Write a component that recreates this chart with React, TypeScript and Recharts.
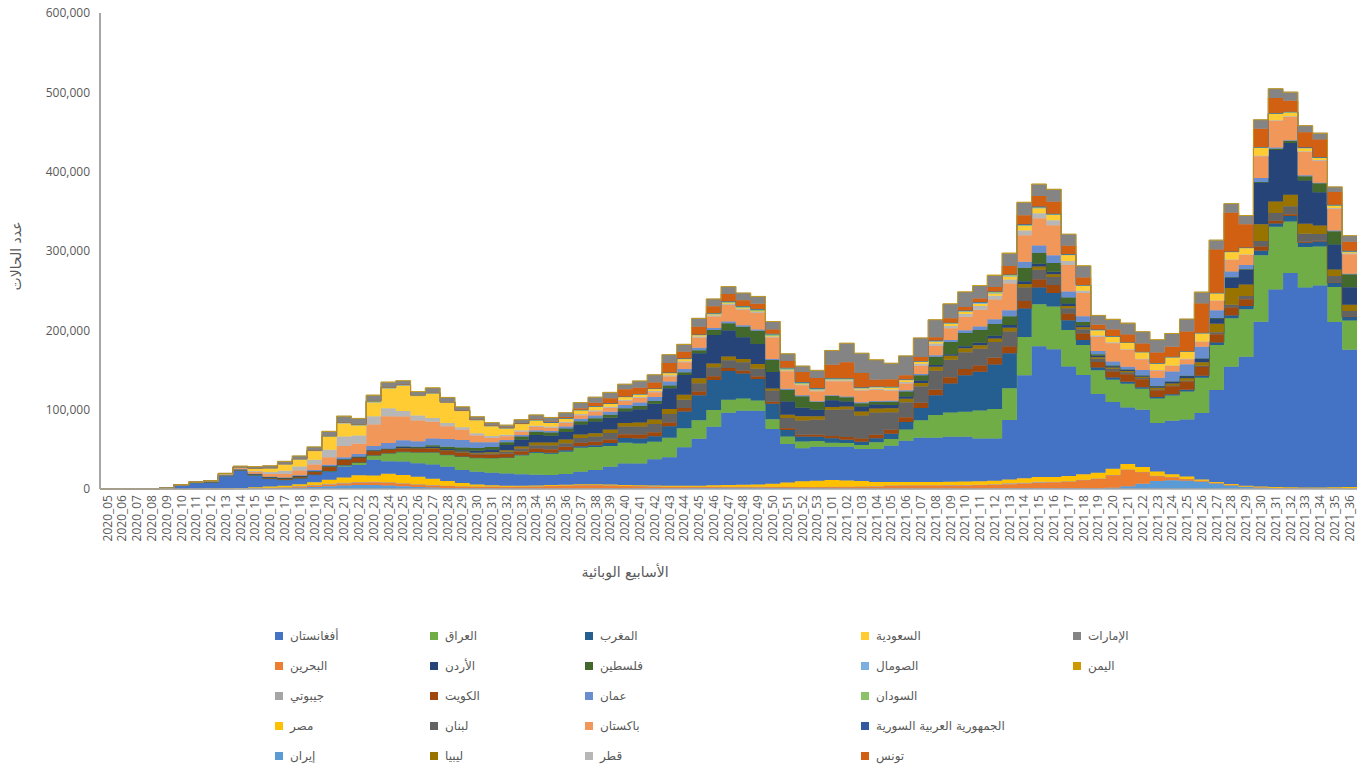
import React from 'react';
import { AreaChart, Area, XAxis, YAxis } from 'recharts';

const weeks = [
  '2020_05','2020_06','2020_07','2020_08','2020_09','2020_10','2020_11','2020_12','2020_13','2020_14',
  '2020_15','2020_16','2020_17','2020_18','2020_19','2020_20','2020_21','2020_22','2020_23','2020_24',
  '2020_25','2020_26','2020_27','2020_28','2020_29','2020_30','2020_31','2020_32','2020_33','2020_34',
  '2020_35','2020_36','2020_37','2020_38','2020_39','2020_40','2020_41','2020_42','2020_43','2020_44',
  '2020_45','2020_46','2020_47','2020_48','2020_49','2020_50','2020_51','2020_52','2020_53','2021_01',
  '2021_02','2021_03','2021_04','2021_05','2021_06','2021_07','2021_08','2021_09','2021_10','2021_11',
  '2021_12','2021_13','2021_14','2021_15','2021_16','2021_17','2021_18','2021_19','2021_20','2021_21',
  '2021_22','2021_23','2021_24','2021_25','2021_26','2021_27','2021_28','2021_29','2021_30','2021_31',
  '2021_32','2021_33','2021_34','2021_35','2021_36'
];

const yTicks = [0, 100000, 200000, 300000, 400000, 500000, 600000];

const iranCases = [
  0,0,0,0,0,0,0,0,100,200,
  400,600,900,1500,2500,3500,4500,5200,5000,4500,
  3500,2500,1800,1300,900,600,500,400,300,300,
  300,300,400,500,600,700,700,800,900,1000,
  1200,1400,1500,1600,1500,1400,1200,1000,800,700,
  600,500,400,300,300,300,300,300,300,400,
  500,600,800,1000,1000,900,900,1000,1500,3500,
  6500,10000,11000,10500,9000,7000,4500,2500,1500,1000,
  800,600,500,400,300
];
const bahrainCases = [
  0,0,0,50,100,100,200,200,200,300,
  500,800,1000,1500,2000,2300,2500,3000,3500,3800,
  3500,3200,3000,2800,2500,2600,2500,2500,2700,3000,
  3800,4200,4500,4500,4000,3500,3000,2500,2000,1800,
  1500,1300,1200,1100,1200,1300,1500,1600,1700,2000,
  2200,2500,3000,4000,4500,4500,4500,4500,4500,4500,
  4800,5500,6000,7000,7500,8500,10500,12000,16000,21000,
  15000,6500,4000,2200,1300,900,800,700,700,500,
  500,500,400,400,300
];
const djiboutiCases = [
  0,0,0,0,0,0,0,0,20,80,
  300,300,400,700,600,900,1000,700,500,300,
  300,200,100,100,100,100,100,50,50,50,
  50,50,50,50,50,50,50,50,50,50,
  50,50,50,50,50,50,50,50,50,50,
  50,50,50,50,50,50,50,100,200,400,
  700,1000,1200,1000,700,400,200,100,100,100,
  50,50,50,50,50,50,50,50,50,50,
  50,50,50,50,50
];
const egyptCases = [
  0,0,0,0,0,50,200,300,500,800,
  1000,1300,1700,2300,3500,5000,6500,8500,8000,10500,
  10500,9500,8000,6000,4000,2500,1500,1200,1100,1000,
  900,900,900,900,900,900,1000,1100,1200,1300,
  1500,2000,2400,2600,3000,4000,5500,7000,8000,8500,
  8000,7000,5500,4500,4000,4000,4000,4200,4500,4500,
  4500,5000,5500,6000,6000,6500,7000,7500,8000,7000,
  6300,5500,3400,3000,1500,1000,900,900,1000,1000,
  800,800,900,1200,1800
];
const afghanistanCases = [
  0,0,0,0,800,5000,7500,8000,15500,22000,
  15000,10000,7500,7000,9000,10000,14000,13000,20000,16000,
  17000,17000,18000,18000,16500,16000,16000,15500,14500,13500,
  12500,13500,16000,18000,22500,27000,27500,33000,35800,48400,
  59000,73800,91000,93300,92900,68800,48500,41600,42800,42100,
  42500,40400,41500,45800,52100,55800,55800,56800,56400,54000,
  53300,75000,130000,165000,161000,138000,125000,99000,84000,71000,
  72000,61000,67500,71700,84000,115700,148000,162500,207500,249000,
  270000,252000,254700,208500,173000
];
const iraqCases = [
  0,0,0,0,0,50,100,150,300,400,
  300,200,200,400,600,800,1500,3000,5500,10000,
  12000,14000,15500,15000,17000,17500,18500,20000,24000,28000,
  27000,28000,30000,29000,26000,26000,25000,22000,24500,24000,
  23500,21000,16500,15500,13000,12500,9500,8500,7000,5000,
  4500,5000,8500,8500,14000,22000,28500,30500,31500,35000,
  37000,40000,48000,53000,54000,46000,38000,30000,28000,30000,
  26500,31000,32000,35500,44500,57000,61000,60000,84000,79000,
  65000,51000,49000,44000,37000
];
const moroccoCases = [
  0,0,0,0,0,0,50,100,150,100,
  50,50,30,30,50,50,100,100,100,100,
  50,50,50,50,100,100,100,200,500,800,
  1200,1800,2000,2200,4000,6000,6500,7000,14500,21000,
  31500,38000,36000,31500,27000,19500,8000,6300,5500,5500,
  4200,4200,5000,6500,9500,15500,25000,36500,46000,49000,
  56000,44000,36000,21000,17000,12500,6300,3500,3000,2500,
  2000,1800,1500,2000,2500,3000,3500,4000,5500,4200,
  7000,5500,6300,5000,4200
];
const kuwaitCases = [
  0,0,0,0,50,50,100,100,100,200,
  400,700,1200,2000,3500,5500,7000,6500,5500,4500,
  4500,4500,4500,4500,4500,4000,4200,4500,4500,4500,
  4500,4500,4500,4500,4500,5000,5000,5000,5000,4500,
  4500,4500,4000,3500,3000,2500,2200,2300,2500,3000,
  3500,4000,4500,5000,6000,6500,7000,8000,8000,8000,
  8500,8500,9500,10000,10000,8500,8000,7000,7500,9500,
  10000,8500,10000,10500,11000,10500,10000,8500,5500,3500,
  2200,1200,1200,800,700
];
const lebanonCases = [
  0,0,0,0,0,20,80,150,150,150,
  100,50,40,100,100,100,100,100,150,200,
  200,200,300,500,800,1200,1500,2500,3500,4000,
  4500,4500,6000,6500,8000,9500,10000,10500,10500,10500,
  10500,11300,9500,10500,10000,14000,13000,18000,19000,33000,
  35000,29000,28000,22000,19000,21000,24000,22000,21000,21000,
  20000,19000,17000,12500,10000,6500,5500,4000,3500,2500,
  1500,1200,1000,1000,1500,2500,3500,4200,7000,9500,
  10000,10000,8500,8000,7000
];
const libyaCases = [
  0,0,0,0,0,0,0,0,0,0,
  10,10,10,10,10,20,30,50,100,150,
  200,300,400,600,800,1200,1500,2000,2500,3500,
  4000,4500,4500,4200,4500,4500,5000,5500,6500,6300,
  6300,5000,5000,4200,6000,2500,4200,5500,4200,3500,
  3400,5000,5000,5000,4200,4000,5000,5000,5000,4500,
  4500,4500,4500,4000,3500,3000,2500,2000,1500,1500,
  1500,2000,2500,3000,4500,10500,21000,14500,21000,14700,
  14700,12600,10500,8400,8000
];
const jordanCases = [
  0,0,0,0,0,10,30,100,300,400,
  800,1000,800,800,600,400,300,300,400,600,
  1200,800,1500,1500,1800,2500,3500,6500,8500,9500,
  8500,9500,12500,14700,14700,14700,16800,20000,26000,25000,
  31500,35700,32700,27300,25000,21000,16800,10500,8500,8400,
  6300,6300,5000,4200,3000,3000,2000,2000,2500,3000,
  3500,3500,3500,3500,3000,3000,2500,1800,1500,1500,
  1500,2000,2500,3000,4500,7000,13400,18500,52500,65000,
  65000,54600,42000,31500,22000
];
const palestineCases = [
  0,0,0,0,0,10,20,30,50,100,
  100,50,50,50,30,30,30,50,100,200,
  500,1000,2000,2800,3200,3500,3000,3500,4000,4000,
  4000,4500,4200,4200,4000,4000,4000,3500,3500,3400,
  4000,6300,9200,13400,16800,15000,14700,14700,9700,5500,
  5500,4200,3400,4200,6300,6700,10500,15500,16800,16000,
  14700,11300,16800,13800,11300,7500,4200,2000,1000,500,
  300,200,200,200,200,300,400,500,800,1500,
  2500,5500,11300,16800,16400
];
const omanCases = [
  0,0,0,0,0,0,10,30,100,200,
  300,400,600,1000,1500,2000,2500,3500,5500,7000,
  8000,7000,8500,10000,9500,7000,6000,3000,2000,2000,
  2000,2500,3000,3500,3500,4000,4500,5000,5000,4000,
  3000,2500,2000,1800,1500,1300,1200,1000,1000,1000,
  1000,1200,1200,1300,1500,1500,1800,2500,3500,4500,
  6000,7500,7500,9200,9700,7500,7000,4000,5000,3500,
  7000,10500,12600,14700,14700,10000,7000,5500,5000,1500,
  1000,1000,800,700,600
];
const pakistanCases = [
  0,0,0,0,10,10,50,500,1000,1500,
  2500,3500,4500,6000,7000,9500,14000,13000,27000,34000,
  30000,26000,21000,16000,13000,8500,5500,4500,4000,4000,
  4000,4500,4500,5000,5000,5000,5500,6000,6500,8400,
  12600,14700,21000,19700,21000,27000,22000,12600,12600,17600,
  19000,14700,13800,12600,8400,10500,11800,14700,16800,21000,
  25000,33600,33600,34400,37800,33600,29400,17600,23000,21000,
  13400,9200,7000,6300,6300,11800,14700,12600,27300,33600,
  29400,29400,27300,27300,24400
];
const qatarCases = [
  0,0,0,0,0,10,300,200,100,300,
  1000,2500,4000,5000,6000,9500,12000,10500,10500,10000,
  7000,6300,5000,4000,3000,3000,2500,2000,1800,1600,
  1600,1500,1500,1500,1500,1500,1500,1500,1500,1500,
  1500,1500,1500,1300,1200,1100,1000,1000,1000,1200,
  1400,1500,1500,1600,2000,2500,3000,3000,3500,5000,
  4500,5000,6000,6300,6300,5000,3000,2000,1500,1000,
  700,600,500,500,500,500,600,700,800,900,
  1000,1000,1200,1300,1300
];
const saudiCases = [
  0,0,0,0,0,20,80,400,800,1000,
  3500,5000,8400,9000,11000,16400,16800,12600,17600,25000,
  32000,25000,31000,26000,21000,16800,12600,8400,8400,7000,
  5000,4200,5000,5000,4000,4000,3500,3000,3000,3000,
  2000,1500,1300,1200,1200,1200,1200,1100,1100,1200,
  1200,1400,2000,2200,2500,2400,2400,2400,2500,2700,
  3000,4000,5500,6300,6700,7500,6300,6700,7000,8400,
  8400,8400,10500,9200,10500,9200,9700,8400,10500,8400,
  5000,4200,3000,3000,2000
];
const somaliaCases = [
  0,0,0,0,0,0,0,0,0,0,
  50,200,300,400,300,300,400,400,200,200,
  200,150,100,100,50,50,50,50,50,50,
  50,50,50,50,50,50,50,50,50,50,
  50,50,50,50,50,50,50,50,50,50,
  50,50,100,200,300,500,800,1000,1200,1000,
  900,800,700,600,500,400,300,200,200,150,
  100,100,100,100,100,100,100,100,100,100,
  100,100,100,100,100
];
const sudanCases = [
  0,0,0,0,0,0,0,0,0,0,
  10,50,150,300,500,800,1000,1300,1500,1200,
  1000,800,600,400,300,200,150,100,50,50,
  50,50,50,50,50,50,50,50,100,200,
  300,800,1200,1600,1800,1800,1600,1500,1300,1200,
  1000,800,600,500,400,300,200,200,300,600,
  800,800,800,600,400,300,300,300,300,200,
  100,100,100,100,100,100,100,100,100,100,
  100,100,100,100,100
];
const syriaCases = [
  0,0,0,0,0,0,0,0,0,0,
  10,10,10,10,10,10,10,10,10,10,
  30,50,50,100,100,150,200,250,350,400,
  400,350,250,150,100,100,100,150,200,300,
  400,500,600,600,600,600,600,500,400,300,
  300,300,300,300,300,300,400,500,600,700,
  800,900,900,800,700,600,400,300,200,200,
  200,100,100,100,100,100,100,100,200,300,
  400,500,700,900,1200
];
const tunisiaCases = [
  0,0,0,0,0,10,20,50,100,150,
  150,100,50,30,20,20,10,10,20,30,
  30,30,50,100,100,150,200,300,400,600,
  800,1200,2000,4200,6300,9200,8000,7500,12000,8400,
  9700,8400,9200,7000,6700,5500,8400,12600,12600,16800,
  20000,18000,8400,9700,5000,5000,4200,5500,4200,4200,
  5500,10500,11300,13400,15000,10500,9200,5900,8400,9700,
  10500,13400,12600,25000,37000,54600,49000,29400,23000,18900,
  13800,18900,22000,16000,11300
];
const uaeCases = [
  0,0,10,10,10,30,50,100,300,900,
  1800,2500,3000,3500,4200,5500,7500,7000,7000,6300,
  4600,4000,5900,5500,4200,3400,3500,3000,4200,5500,
  5000,5500,7000,7000,7500,6300,8400,9700,10500,9200,
  10500,9200,9200,9200,9200,10000,9200,7500,9700,18000,
  24000,25000,25000,20000,24400,24000,22000,18000,18900,16000,
  14700,16000,16000,14700,15500,14300,14700,11800,12600,14300,
  14700,16000,16800,15500,14300,11800,11300,10900,11300,11800,
  10900,8400,8000,6300,7500
];
const yemenCases = [
  0,0,0,0,0,0,0,0,0,0,
  0,0,0,10,20,50,100,200,200,250,
  250,200,150,100,80,50,50,40,30,20,
  20,20,20,20,20,20,20,20,20,20,
  20,20,20,20,20,20,20,20,20,20,
  20,20,20,20,20,50,100,200,300,400,
  500,500,500,400,300,250,200,150,100,80,
  50,50,50,50,50,50,50,50,50,50,
  50,50,60,80,100
];

// stacking order bottom -> top, as drawn in the reference
const seriesList = [
  { key: 's01', name: 'إيران', color: '#5B9BD5', values: iranCases },
  { key: 's02', name: 'البحرين', color: '#ED7D31', values: bahrainCases },
  { key: 's03', name: 'جيبوتي', color: '#A5A5A5', values: djiboutiCases },
  { key: 's04', name: 'مصر', color: '#FFC000', values: egyptCases },
  { key: 's05', name: 'أفغانستان', color: '#4472C4', values: afghanistanCases },
  { key: 's06', name: 'العراق', color: '#70AD47', values: iraqCases },
  { key: 's07', name: 'المغرب', color: '#255E91', values: moroccoCases },
  { key: 's08', name: 'الكويت', color: '#9E480E', values: kuwaitCases },
  { key: 's09', name: 'لبنان', color: '#636363', values: lebanonCases },
  { key: 's10', name: 'ليبيا', color: '#997300', values: libyaCases },
  { key: 's11', name: 'الأردن', color: '#264478', values: jordanCases },
  { key: 's12', name: 'فلسطين', color: '#43682B', values: palestineCases },
  { key: 's13', name: 'عمان', color: '#698ED0', values: omanCases },
  { key: 's14', name: 'باكستان', color: '#F1975A', values: pakistanCases },
  { key: 's15', name: 'قطر', color: '#B7B7B7', values: qatarCases },
  { key: 's16', name: 'السعودية', color: '#FFCD33', values: saudiCases },
  { key: 's17', name: 'الصومال', color: '#7CAFDD', values: somaliaCases },
  { key: 's18', name: 'السودان', color: '#8CC168', values: sudanCases },
  { key: 's19', name: 'الجمهورية العربية السورية', color: '#335AA1', values: syriaCases },
  { key: 's20', name: 'تونس', color: '#D26012', values: tunisiaCases },
  { key: 's21', name: 'الإمارات', color: '#848484', values: uaeCases },
  { key: 's22', name: 'اليمن', color: '#CC9A00', values: yemenCases },
];

// legend layout as in the reference (rows of columns)
const legendRows = [
  ['أفغانستان', 'العراق', 'المغرب', 'السعودية', 'الإمارات'],
  ['البحرين', 'الأردن', 'فلسطين', 'الصومال', 'اليمن'],
  ['جيبوتي', 'الكويت', 'عمان', 'السودان'],
  ['مصر', 'لبنان', 'باكستان', 'الجمهورية العربية السورية'],
  ['إيران', 'ليبيا', 'قطر', 'تونس'],
];
const legendColX = [279, 434, 589, 865, 1077];
const legendRowY = [636, 666, 696, 726, 756];

const rows: any[] = weeks.map((w, i) => {
  const r: any = { x: i, week: w };
  seriesList.forEach((s) => { r[s.key] = s.values[i]; });
  return r;
});
// closing point so the last weekly step covers its full band
rows.push({ ...rows[rows.length - 1], x: weeks.length });

const colorOf = (name: string) => {
  const s = seriesList.find((q) => q.name === name);
  return s ? s.color : '#999';
};

const WeekTick = (props: any) => {
  const { x, y, payload } = props;
  const idx = Math.floor(payload.value);
  const yy = y - 2;
  return (
    <text
      x={x}
      y={yy}
      transform={`rotate(-90 ${x} ${yy})`}
      textAnchor="end"
      dy="0.35em"
      fill="#595959"
      fontSize={12}
      fontFamily="'Open Sans', sans-serif"
    >
      {weeks[idx]}
    </text>
  );
};

const textColor = '#595959';
const arabicFont = "'DejaVu Sans', 'Noto Sans', sans-serif";

export default function App() {
  return (
    <div style={{ position: 'absolute', left: 0, top: 0, width: 1365, height: 769, background: '#ffffff', overflow: 'hidden' }}>
      <AreaChart
        width={1365}
        height={769}
        data={rows}
        margin={{ top: 13, right: 8, left: 0, bottom: 210 }}
      >
        <XAxis
          type="number"
          dataKey="x"
          domain={[0, weeks.length]}
          ticks={weeks.map((_, i) => i + 0.5)}
          interval={0}
          tick={<WeekTick />}
          tickLine={false}
          axisLine={{ stroke: '#A6A6A6', strokeWidth: 1.5 }}
          height={70}
          allowDataOverflow
        />
        <YAxis
          type="number"
          domain={[0, 600000]}
          ticks={yTicks}
          interval={0}
          tickFormatter={(v: number) => v.toLocaleString('en-US')}
          width={100}
          tickLine={false}
          tickSize={0}
          tickMargin={10}
          axisLine={{ stroke: '#A6A6A6', strokeWidth: 2 }}
          tick={{ fill: textColor, fontSize: 12, fontFamily: "'Open Sans', sans-serif" }}
        />
        {seriesList.map((s) => (
          <Area
            key={s.key}
            type="stepAfter"
            dataKey={s.key}
            name={s.name}
            stackId="all"
            fill={s.color}
            fillOpacity={1}
            stroke={s.color}
            strokeWidth={0.8}
            dot={false}
            activeDot={false}
            isAnimationActive={false}
          />
        ))}
      </AreaChart>

      <div
        style={{
          position: 'absolute', left: 16, top: 256,
          transform: 'translate(-50%, -50%) rotate(-90deg)',
          whiteSpace: 'nowrap', fontSize: 14, color: textColor, fontFamily: arabicFont,
        }}
      >
        عدد الحالات
      </div>
      <div
        style={{
          position: 'absolute', left: 625, top: 572,
          transform: 'translate(-50%, -50%)',
          whiteSpace: 'nowrap', fontSize: 14, color: textColor, fontFamily: arabicFont,
        }}
      >
        الأسابيع الوبائية
      </div>

      {legendRows.map((row, ri) =>
        row.map((name, ci) => (
          <div
            key={name}
            style={{
              position: 'absolute', left: legendColX[ci] - 4, top: legendRowY[ri] - 8,
              height: 16, display: 'flex', alignItems: 'center', whiteSpace: 'nowrap',
            }}
          >
            <span style={{ display: 'inline-block', width: 8, height: 8, background: colorOf(name) }} />
            <span style={{ marginLeft: 7, fontSize: 12, color: textColor, fontFamily: arabicFont }}>{name}</span>
          </div>
        ))
      )}
    </div>
  );
}
